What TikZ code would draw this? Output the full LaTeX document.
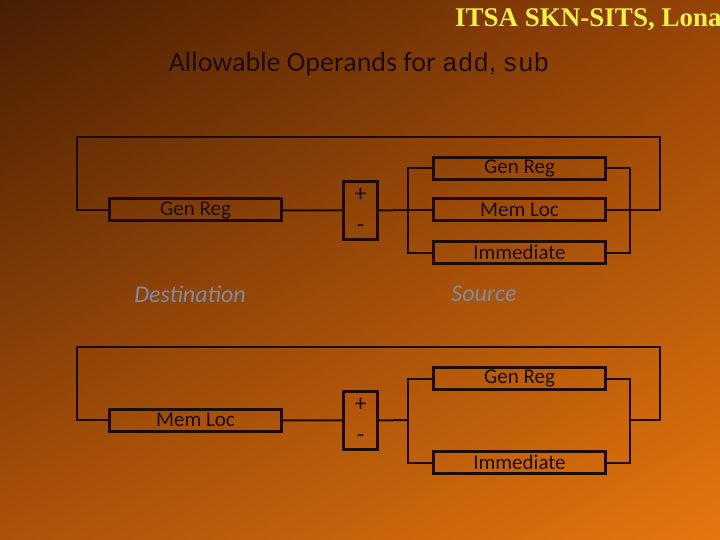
\documentclass[tikz,border=0pt]{standalone}
\usepackage{fontspec}
\usetikzlibrary{shadings}
\setmainfont{Carlito}
\setmonofont{Liberation Mono}
\newfontfamily\hdrfont{Liberation Serif}
\definecolor{bgdark}{RGB}{72,30,3}
\definecolor{bgmid}{RGB}{150,68,6}
\definecolor{bgmidb}{RGB}{172,82,10}
\definecolor{bglight}{RGB}{228,118,14}
\definecolor{ink}{RGB}{30,12,0}
\definecolor{hdr}{RGB}{248,240,70}
\definecolor{lbl}{RGB}{125,140,165}

\begin{document}
\begin{tikzpicture}[x=1pt,y=-1pt]
\tikzstyle{opnd}=[draw=ink, line width=3pt, minimum width=172pt, minimum height=22pt, inner sep=0pt, text=ink, font=\fontsize{21}{21}\selectfont]
\tikzstyle{opr}=[draw=ink, line width=3pt, minimum width=34pt, minimum height=58pt, inner sep=0pt, text=ink, align=center, font=\fontsize{24}{31}\selectfont]
\tikzstyle{wire}=[draw=ink, line width=2pt]
\tikzstyle{side}=[text=lbl, font=\fontsize{24}{24}\selectfont\itshape]

\useasboundingbox (0,0) rectangle (720,540);
\shade[upper left=bgdark, upper right=bgmid, lower left=bgmidb, lower right=bglight] (0,0) rectangle (720,540);

\node[anchor=base west, inner sep=0pt, text=hdr, font=\hdrfont\fontsize{27}{27}\selectfont\bfseries] (hdr) at (455,27) {ITSA SKN-SITS, Lona};
\node[text=ink, font=\fontsize{28}{28}\selectfont] (title) at (359,64) {Allowable Operands for {\fontsize{26}{26}\selectfont\texttt{add}}, {\fontsize{26}{26}\selectfont\texttt{sub}}};

% first form
\draw (195.5,210) node[opnd] (dst1) {Gen Reg};
\draw (360.5,210.5) node[opr] (op1) {+\\-};
\draw (519.5,168.5) node[opnd] (s1a) {Gen Reg};
\draw (519.5,210) node[opnd] (s1b) {Mem Loc};
\draw (519.5,252.5) node[opnd] (s1c) {Immediate};
\coordinate (br1) at (408,210);
\coordinate (mg1) at (630,210);
\coordinate (tr1) at (660,137);
\coordinate (tl1) at (77,137);

\draw[wire] (dst1) -- (op1);
\draw[wire] (op1.east) -- (br1);
\draw[wire] (s1a.west) -| (br1) |- (s1c.west);
\draw[wire] (br1) -- (s1b.west);
\draw[wire] (s1a.east) -| (mg1) |- (s1c.east);
\draw[wire] (s1b.east) -- (mg1);
\draw[wire] (mg1) -| (tr1) -- (tl1) |- (dst1.west);

\node[side] (dst) at (190,294) {Destination};
\node[side] (src) at (484,294) {Source};

% second form
\draw (195.5,420) node[opnd] (dst2) {Mem Loc};
\draw (360.5,420.5) node[opr] (op2) {+\\-};
\draw (519.5,378.5) node[opnd] (s2a) {Gen Reg};
\draw (519.5,462.5) node[opnd] (s2c) {Immediate};
\coordinate (br2) at (408,420);
\coordinate (mg2) at (630,420);
\coordinate (tr2) at (660,347);
\coordinate (tl2) at (77,347);

\draw[wire] (dst2) -- (op2);
\draw[wire] (op2.east) -- (br2);
\draw[wire] (s2a.west) -| (br2) |- (s2c.west);
\draw[wire] (s2a.east) -| (mg2) |- (s2c.east);
\draw[wire] (mg2) -| (tr2) -- (tl2) |- (dst2.west);
\end{tikzpicture}
\end{document}
